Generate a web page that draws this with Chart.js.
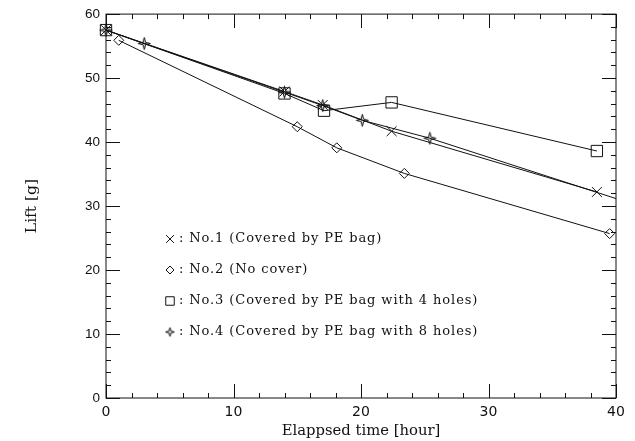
<!DOCTYPE html>
<html>
<head>
<meta charset="utf-8">
<script src="https://cdn.jsdelivr.net/npm/chart.js@4/dist/chart.umd.min.js"></script>
<style>
  html, body { margin: 0; padding: 0; background: #fff; }
  #wrap { position: relative; width: 635px; height: 441px; }
</style>
</head>
<body>
<div id="wrap"><canvas id="c" width="635" height="441"></canvas></div>
<script>
// ---- Data ----
const no1Time = [0, 14.0, 17.0, 22.4, 38.5];
const no1Lift = [57.5, 47.9, 45.8, 41.7, 32.2];

const no2Time = [1.0, 15.0, 18.1, 23.4, 39.5];
const no2Lift = [55.9, 42.4, 39.1, 35.1, 25.7];

const no3Time = [0, 14.0, 17.1, 22.4, 38.5];
const no3Lift = [57.5, 47.6, 44.9, 46.2, 38.6];

const no4Time = [0, 3.0, 14.0, 17.0, 20.1, 25.4, 41.5];
const no4Lift = [57.5, 55.4, 47.8, 45.7, 43.4, 40.6, 30.2];

const legendLabels = [
  ': No.1 (Covered by PE bag)',
  ': No.2 (No cover)',
  ': No.3 (Covered by PE bag with 4 holes)',
  ': No.4 (Covered by PE bag with 8 holes)'
];
const xTitle = 'Elappsed time [hour]';
const yTitle = 'Lift [g]';

function toXY(xs, ys) { return xs.map((x, i) => ({ x: x, y: ys[i] })); }

// custom thin four-point star marker
function starMarker(r) {
  const s = 2 * Math.ceil(r) + 3;
  const cv = document.createElement('canvas');
  cv.width = s; cv.height = s;
  const g = cv.getContext('2d');
  const c = s / 2, k = r * 0.2;
  g.strokeStyle = '#000';
  g.lineWidth = 1;
  g.beginPath();
  g.moveTo(c, c - r);
  g.lineTo(c + k, c - k);
  g.lineTo(c + r, c);
  g.lineTo(c + k, c + k);
  g.lineTo(c, c + r);
  g.lineTo(c - k, c + k);
  g.lineTo(c - r, c);
  g.lineTo(c - k, c - k);
  g.closePath();
  g.stroke();
  return cv;
}
const starBig = starMarker(6);
const starSmall = starMarker(4.5);

const INK = '#111';

const styles = [
  { pointStyle: 'crossRot', radius: 7, legendRadius: 5.5 },
  { pointStyle: 'rectRot', radius: 5, legendRadius: 4 },
  { pointStyle: 'rect', radius: 8, legendRadius: 6 },
  { pointStyle: starBig, legendStyle: starSmall, radius: 6, legendRadius: 4.5 }
];

function ds(xs, ys, st) {
  return {
    data: toXY(xs, ys),
    borderColor: INK,
    borderWidth: 1,
    pointStyle: st.pointStyle,
    pointRadius: st.radius,
    pointHoverRadius: st.radius,
    pointBorderColor: INK,
    pointBackgroundColor: 'rgba(0,0,0,0)',
    pointBorderWidth: 1,
    fill: false,
    tension: 0,
    clip: { left: 20, top: 20, right: 0, bottom: 20 }
  };
}

const frameAndTicks = {
  id: 'frameAndTicks',
  afterDatasetsDraw(chart) {
    const { ctx, chartArea: a, scales } = chart;
    const xs = scales.x, ys = scales.y;
    ctx.save();
    ctx.strokeStyle = INK;
    ctx.lineWidth = 1;
    ctx.strokeRect(a.left, a.top, a.right - a.left, a.bottom - a.top);
    ctx.beginPath();
    for (let v = 0; v <= 40; v += 2) {
      const p = Math.round(xs.getPixelForValue(v)) + 0.5;
      const len = v % 10 === 0 ? 14 : 5;
      ctx.moveTo(p, a.bottom); ctx.lineTo(p, a.bottom - len);
      ctx.moveTo(p, a.top); ctx.lineTo(p, a.top + len);
    }
    for (let v = 0; v <= 60; v += 2) {
      const p = Math.round(ys.getPixelForValue(v)) + 0.5;
      const len = v % 10 === 0 ? 14 : 5;
      ctx.moveTo(a.left, p); ctx.lineTo(a.left + len, p);
      ctx.moveTo(a.right, p); ctx.lineTo(a.right - len, p);
    }
    ctx.stroke();

    // in-plot legend
    const lx = 170, rows = [239, 270, 301, 332];
    legendLabels.forEach((t, i) => {
      const st = styles[i];
      ctx.fillStyle = 'rgba(0,0,0,0)';
      ctx.strokeStyle = INK;
      Chart.helpers.drawPoint(ctx, {
        pointStyle: st.legendStyle || st.pointStyle,
        radius: st.legendRadius,
        rotation: 0,
        borderWidth: 1
      }, lx, rows[i]);
      ctx.font = '13px "DejaVu Serif"';
      ctx.fillStyle = INK;
      ctx.textBaseline = 'middle';
      ctx.textAlign = 'left';
      ctx.letterSpacing = '0.9px';
      ctx.fillText(t, lx + 9, rows[i]);
      ctx.letterSpacing = '0px';
    });
    ctx.restore();
  }
};

new Chart(document.getElementById('c'), {
  type: 'line',
  data: {
    datasets: [
      ds(no1Time, no1Lift, styles[0]),
      ds(no2Time, no2Lift, styles[1]),
      ds(no3Time, no3Lift, styles[2]),
      ds(no4Time, no4Lift, styles[3])
    ]
  },
  options: {
    responsive: false,
    animation: false,
    events: [],
    layout: { padding: { left: 0, top: 13, right: 19, bottom: 0 } },
    plugins: { legend: { display: false }, tooltip: { enabled: false } },
    scales: {
      x: {
        type: 'linear',
        min: 0, max: 40,
        grid: { display: false, drawTicks: false },
        border: { display: false },
        ticks: {
          stepSize: 10,
          padding: 6,
          color: INK,
          font: { family: '"DejaVu Sans"', size: 14 },
          maxRotation: 0
        },
        title: {
          display: true,
          text: xTitle,
          color: INK,
          font: { family: '"DejaVu Serif"', size: 14.8 },
          padding: { top: 0, bottom: 1.2 }
        },
        afterFit(scale) { scale.height = 43; }
      },
      y: {
        type: 'linear',
        min: 0, max: 60,
        grid: { display: false, drawTicks: false },
        border: { display: false },
        ticks: {
          stepSize: 10,
          padding: 6,
          color: INK,
          font: { family: '"Liberation Sans"', size: 13.5 }
        },
        title: {
          display: true,
          text: yTitle,
          color: INK,
          font: { family: '"DejaVu Serif"', size: 15.5 },
          padding: { top: 23, bottom: 0 }
        },
        afterFit(scale) { scale.width = 106; }
      }
    }
  },
  plugins: [frameAndTicks]
});
</script>
</body>
</html>
